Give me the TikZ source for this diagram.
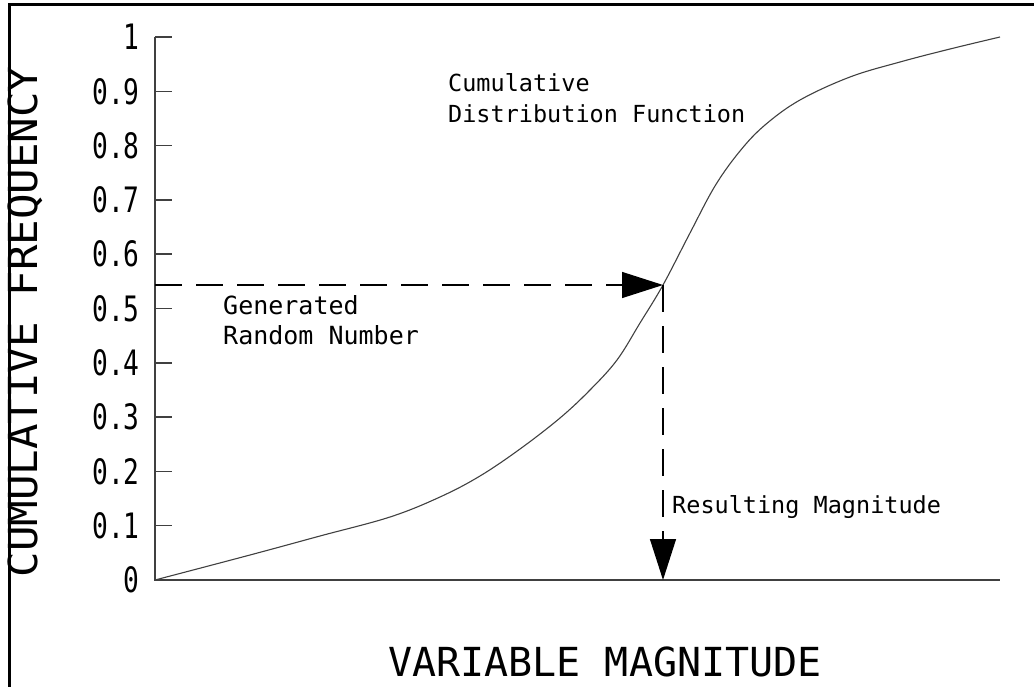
\documentclass[tikz,border=0pt]{standalone}
\usepackage{fontspec}
\usepackage{graphicx}
\newfontfamily\cadfont{DejaVu Sans Mono}
\usetikzlibrary{arrows.meta}

\begin{document}
\begin{tikzpicture}[x=1pt,y=-1pt,
  frame/.style={line width=3pt,draw=black},
  axis/.style={line width=1.6pt,draw=black!75},
  tickmark/.style={line width=1.4pt,draw=black!75},
  cdf/.style={line width=1.1pt,draw=black!75},
  guide/.style={line width=1.3pt,draw=black,dash pattern=on 27pt off 14pt},
  headtip/.style={-{Triangle[length=41pt,width=26pt]}},
  ticklabel/.style={anchor=east,inner sep=0pt,font=\cadfont\fontsize{35}{35}\selectfont},
  title/.style={inner sep=0pt,font=\cadfont\fontsize{40}{40}\selectfont},
  note/.style={inner sep=0pt,anchor=north west,align=left,font=\cadfont\fontsize{23.5}{31}\selectfont},
]
\useasboundingbox (0,0) rectangle (1034,687);

% frame edges
\draw[frame] (9,687) -- (9,5) -- (1034,5);

% axes
\coordinate (O) at (155,580);
\coordinate (Ytop) at (155,37);
\coordinate (Xend) at (1000,580);
\draw[axis] (Ytop) -- (O) -- (Xend);

% ticks and tick labels on the frequency axis
\foreach \v in {1,...,10} {
  \draw[tickmark] (155,{580-54.3*\v}) -- (172,{580-54.3*\v});
}
\foreach \v/\t in {0/0,1/0.1,2/0.2,3/0.3,4/0.4,5/0.5,6/0.6,7/0.7,8/0.8,9/0.9,10/1} {
  \node[ticklabel] (lab\v) at (140,{580-54.3*\v}) {\scalebox{0.75}[1]{\t}};
}

% cumulative distribution curve
\draw[cdf] plot[smooth,tension=0.6] coordinates {
  (155,580) (250,555) (320,536) (390,517) (440,497) (480,476)
  (520,449) (560,418) (590,390) (617,360) (640,323) (663,285)
  (690,233) (715,186) (740,151) (765,125) (800,100)
  (850,77) (900,62) (950,49) (1000,37)};

% sampled point and guide arrows
\coordinate (P) at (663,285);
\coordinate (Pstart) at (155,285);
\coordinate (Pfoot) at (663,580);
\draw[guide,headtip] (Pstart) -- (P);
\draw[guide,headtip] (P) -- (Pfoot);

% axis titles
\node[title,rotate=90] (ytitle) at (25,322) {\scalebox{1.06}[1]{CUMULATIVE FREQUENCY}};
\node[title] (xtitle) at (605,662) {VARIABLE MAGNITUDE};

% annotations
\node[note] (cdfnote) at (448,73) {Cumulative\\Distribution Function};
\node[note,font=\cadfont\fontsize{25}{30}\selectfont] (gennote) at (223,295) {Generated\\Random Number};
\node[note] (resnote) at (672,495) {Resulting Magnitude};
\end{tikzpicture}
\end{document}
